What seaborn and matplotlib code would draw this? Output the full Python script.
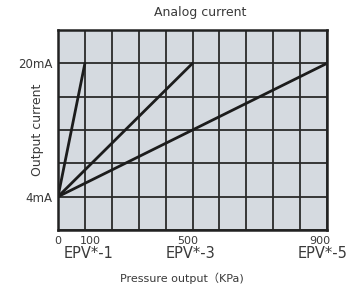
import numpy as np
import matplotlib
matplotlib.use("Agg")
import matplotlib.pyplot as plt
import seaborn as sns
import pandas as pd

# ---- data ----
models = ["EPV*-1", "EPV*-3", "EPV*-5"]
pressure_end = [100, 500, 900]          # KPa at 20 mA
current_range = [4, 20]                 # mA
x_tick_values = [0, 100, 500, 900]
x_tick_labels = ["0", "100", "500", "900"]
model_labels = ["EPV*-1", "EPV*-3", "EPV*-5"]
y_tick_values = [4, 20]
y_tick_labels = ["4mA", "20mA"]
# grid columns of the printed chart (KPa at the corresponding vertical grid lines)
col_pos = [0, 1, 5, 10]
col_kpa = [0, 100, 500, 900]

rows = []
for m, p in zip(models, pressure_end):
    rows.append({"model": m, "pressure": 0, "current": current_range[0]})
    rows.append({"model": m, "pressure": p, "current": current_range[1]})
df = pd.DataFrame(rows)

sns.set_style("white")
plt.rcParams["font.family"] = ["DejaVu Sans", "Noto Sans CJK SC"]

def fwd(x):
    return np.interp(x, col_kpa, col_pos)

def inv(c):
    return np.interp(c, col_pos, col_kpa)

TXT = "#3a3a3a"

fig = plt.figure(figsize=(3.52, 2.90), dpi=100)
ax = fig.add_axes([58/352, 1-230/290, (327-58)/352, 200/290])
ax.set_xscale("function", functions=(fwd, inv))
ax.set_facecolor("#d5dae0")

sns.lineplot(data=df, x="pressure", y="current", units="model", estimator=None,
             color="#1c1c1c", linewidth=2.0, ax=ax, legend=False)

ax.set_xlim(0, 900)
ax.set_ylim(0, 24)

ax.xaxis.remove_overlapping_locs = False
ax.yaxis.remove_overlapping_locs = False
ax.set_xticks(inv(np.arange(11)), minor=True)
ax.set_yticks(np.arange(0, 25, 4), minor=True)
ax.grid(which="minor", color="#2a2a2a", linewidth=1.3)
ax.grid(which="major", visible=False)
ax.set_axisbelow(True)

# x labels drawn as annotations (numbers on one line, model names beneath)
ax.set_xticks(x_tick_values)
ax.set_xticklabels([])
num_dx = [0, 5, -5, -7]
for v, lab, dx in zip(x_tick_values, x_tick_labels, num_dx):
    ax.annotate(lab, xy=(v, 0), xycoords=("data", "axes fraction"),
                xytext=(dx, -6), textcoords="offset pixels",
                ha="center", va="top", fontsize=8, color=TXT)
mod_dx = [4, -2, -4]
for v, lab, dx in zip(pressure_end, model_labels, mod_dx):
    ax.annotate(lab, xy=(v, 0), xycoords=("data", "axes fraction"),
                xytext=(dx, -16), textcoords="offset pixels",
                ha="center", va="top", fontsize=10.5, color=TXT)

ax.set_yticks(y_tick_values)
ax.set_yticklabels(y_tick_labels, fontsize=8.5, color=TXT)
ax.tick_params(which="both", length=0, pad=4)

for s in ax.spines.values():
    s.set_color("#222222")
    s.set_linewidth(1.8)

ax.set_title("Analog current", fontsize=9, color=TXT, pad=10, x=(200-58)/269)
ax.set_ylabel("Output current", fontsize=9, color=TXT)
ax.yaxis.set_label_coords((44-58)/269, 0.5)
ax.set_xlabel("Pressure output（KPa)", fontsize=8, color=TXT)
ax.xaxis.set_label_coords((182-58)/269, (230-272)/200)

fig.savefig("out.png", dpi=100)
